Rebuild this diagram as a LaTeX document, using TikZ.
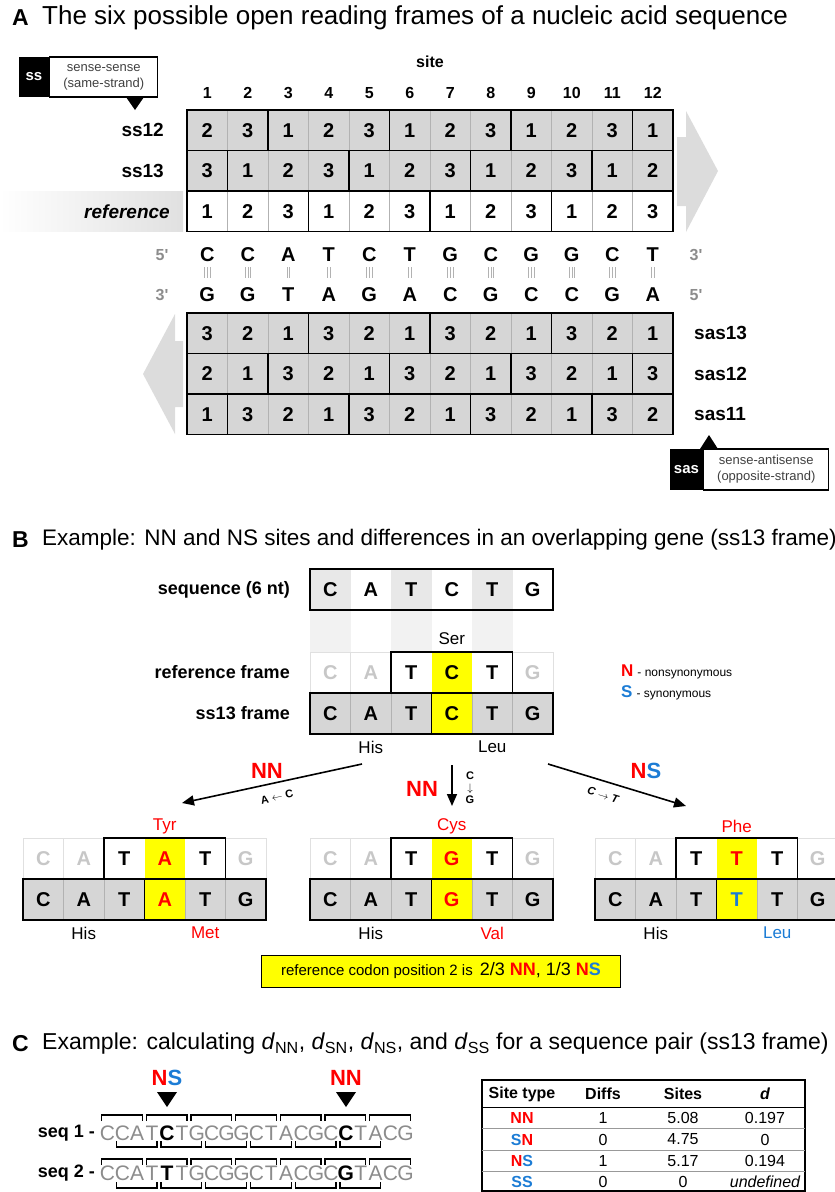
\documentclass[tikz,border=0pt]{standalone}
\usepackage{fontspec}
\setmainfont{Liberation Sans}
\usetikzlibrary{arrows.meta,positioning}

\definecolor{nred}{HTML}{FF0000}
\definecolor{sblue}{HTML}{1C7CD5}
\definecolor{hlyellow}{HTML}{FFFF00}
\definecolor{cellgray}{HTML}{D6D6D6}
\definecolor{bandgray}{HTML}{DCDCDC}

\newcommand{\fsz}[1]{\fontsize{#1}{#1}\selectfont}

\tikzset{
  every node/.style={inner sep=0pt},
  panelletter/.style={font=\bfseries\fsz{23}, anchor=west},
  paneltitle/.style={font=\fsz{22.5}, anchor=west},
  sitehead/.style={font=\bfseries\fsz{16}},
  sitenum/.style={font=\bfseries\fsz{16}},
  cellnum/.style={font=\bfseries\fsz{20}},
  rowlab/.style={font=\bfseries\fsz{19}},
  nucl/.style={font=\bfseries\fsz{20}},
  endlab/.style={font=\bfseries\fsz{16}, text=black!45},
  faded/.style={text=black!22},
  fadebox/.style={draw=black!12, line width=0.6pt},
  thinsep/.style={draw=black!30, line width=0.6pt},
  codonline/.style={line width=1.8pt},
  bond/.style={draw=black!30, line width=0.5pt},
  tagdark/.style={fill=black, text=white, font=\bfseries\fsz{15}},
  tagtext/.style={font=\fsz{13}, text=black!75, align=center},
  aalab/.style={font=\fsz{17}},
  siglab/.style={font=\bfseries\fsz{22}},
  mutlab/.style={font=\bfseries\fsz{11}},
  mutarrow/.style={line width=1.6pt, -{Triangle[length=12pt,width=10pt]}},
  seqlet/.style={font=\fsz{21}, text=black!45},
  seqhit/.style={font=\bfseries\fsz{21}},
  codonbrace/.style={line width=1.3pt},
  tabhead/.style={font=\bfseries\fsz{16}},
  tabcell/.style={font=\fsz{16}},
}

% one reading-frame row of panel A
\newcommand{\orfrow}[5]{%
  \fill[#3] (187,#2) rectangle ++(486,40.5);
  \foreach \k in {1,...,11}
    \draw[thinsep] (187+\k*40.5,#2) -- ++(0,40.5);
  \foreach \d [count=\k] in {#4}
    \node[cellnum] (#1-\k) at (166.75+\k*40.5,#2+20.25) {\d};
  \foreach \b in {#5}
    \draw[codonline] (187+\b*40.5,#2) -- ++(0,40.5);
  \draw[codonline] (187,#2) rectangle ++(486,40.5);
}

% reference frame over ss13 frame, six sites
\newcommand{\framepair}[6]{%
  \foreach \k in {1,2,6}
    \draw[fadebox] (#2-40.5+\k*40.5,#3) rectangle ++(40.5,41);
  \fill[cellgray] (#2,#3+41) rectangle ++(243,41);
  \fill[hlyellow] (#2+121.5,#3) rectangle ++(40.5,82);
  \foreach \k in {1,2,4,5}
    \draw[thinsep] (#2+\k*40.5,#3+41) -- ++(0,41);
  \draw[codonline] (#2+81,#3) rectangle ++(121.5,41);
  \draw[codonline] (#2,#3+41) rectangle ++(243,41);
  \draw[codonline] (#2+121.5,#3+41) -- ++(0,41);
  \node[nucl,faded] (#1r1) at (#2+20.25,#3+20.5) {C};
  \node[nucl,faded] (#1r2) at (#2+60.75,#3+20.5) {A};
  \node[nucl] (#1r3) at (#2+101.25,#3+20.5) {T};
  \node[nucl,text=#5] (#1r4) at (#2+141.75,#3+20.5) {#4};
  \node[nucl] (#1r5) at (#2+182.25,#3+20.5) {T};
  \node[nucl,faded] (#1r6) at (#2+222.75,#3+20.5) {G};
  \foreach \k/\b in {1/C,2/A,3/T,5/T,6/G}
    \node[nucl] (#1f\k) at (#2-20.25+\k*40.5,#3+61.5) {\b};
  \node[nucl,text=#6] (#1f4) at (#2+141.75,#3+61.5) {#4};
}

\begin{document}
\begin{tikzpicture}[x=1pt,y=-1pt]
\useasboundingbox (0,0) rectangle (835,1192);
\clip (0,0) rectangle (835,1192);

% ---------- A ----------
\node[panelletter] (labA) at (12,18) {A};
\node[paneltitle,font=\fsz{26}] (titleA) at (42,18) {The six possible open reading frames of a nucleic acid sequence};

\node[sitehead] (sitehd) at (430,62) {site};
\foreach \k in {1,...,12}
  \node[sitenum] (site\k) at (166.75+\k*40.5,93) {\k};

\shade[left color=white,right color=black!12] (0,191) rectangle (183,231.5);
\fill[bandgray] (677,137) -- (686,137) -- (686,111) -- (718,171) -- (686,232) -- (686,206) -- (677,206) -- cycle;
\fill[bandgray] (183,341) -- (175,341) -- (175,314) -- (143,374) -- (175,434) -- (175,407) -- (183,407) -- cycle;

\orfrow{ss12}{110}{cellgray}{2,3,1,2,3,1,2,3,1,2,3,1}{2,5,8,11}
\orfrow{ss13}{150.5}{cellgray}{3,1,2,3,1,2,3,1,2,3,1,2}{1,4,7,10}
\orfrow{ref}{191}{white}{1,2,3,1,2,3,1,2,3,1,2,3}{3,6,9}
\orfrow{sas13}{313}{cellgray}{3,2,1,3,2,1,3,2,1,3,2,1}{3,6,9}
\orfrow{sas12}{353.5}{cellgray}{2,1,3,2,1,3,2,1,3,2,1,3}{2,5,8,11}
\orfrow{sas11}{394}{cellgray}{1,3,2,1,3,2,1,3,2,1,3,2}{1,4,7,10}

\node[rowlab,anchor=east] (lss12) at (164,130.25) {ss12};
\node[rowlab,anchor=east] (lss13) at (164,170.75) {ss13};
\node[rowlab,anchor=east] (lref) at (170,211.25) {\itshape reference};
\node[rowlab,anchor=west] (lsas13) at (694,333.25) {sas13};
\node[rowlab,anchor=west] (lsas12) at (694,373.75) {sas12};
\node[rowlab,anchor=west] (lsas11) at (694,414.25) {sas11};

% double strand
\node[endlab] (top5) at (162,255) {5\textquotesingle};
\node[endlab] (top3) at (696,255) {3\textquotesingle};
\node[endlab] (bot3) at (162,295) {3\textquotesingle};
\node[endlab] (bot5) at (696,295) {5\textquotesingle};
\foreach \b [count=\k] in {C,C,A,T,C,T,G,C,G,G,C,T}
  \node[nucl] (up\k) at (166.75+\k*40.5,255) {\b};
\foreach \b [count=\k] in {G,G,T,A,G,A,C,G,C,C,G,A}
  \node[nucl] (dn\k) at (166.75+\k*40.5,295) {\b};
\foreach \n [count=\k] in {3,3,2,2,3,2,3,3,3,3,3,2} {
  \ifnum\n=3
    \foreach \o in {-2.8,0,2.8} \draw[bond] (166.75+\k*40.5+\o,267) -- ++(0,11);
  \else
    \foreach \o in {-1.4,1.4} \draw[bond] (166.75+\k*40.5+\o,267) -- ++(0,11);
  \fi
}

% frame tags
\node[tagdark,minimum width=30pt,minimum height=40pt] (sstag) at (34,77) {ss};
\node[tagtext,draw,line width=1.2pt,minimum width=108pt,minimum height=40pt,anchor=west] (ssdesc) at (sstag.east) {sense-sense\\[3pt](same-strand)};
\fill (126,97) -- (144,97) -- (135,110) -- cycle;
\node[tagdark,minimum width=33pt,minimum height=41pt] (sastag) at (686.5,469.5) {sas};
\node[tagtext,draw,line width=1.2pt,minimum width=125pt,minimum height=41pt,anchor=west] (sasdesc) at (sastag.east) {sense-antisense\\[3pt](opposite-strand)};
\fill (700,449) -- (718,449) -- (709,435) -- cycle;

% ---------- B ----------
\node[panelletter] (labB) at (12,540) {B};
\node[paneltitle] (titleB) at (42,540) {Example: NN and NS sites and differences in an overlapping gene (ss13 frame)};

\foreach \k in {1,3,5} {
  \fill[black!9] (269.5+\k*40.5,569) rectangle ++(40.5,41);
  \fill[black!5] (269.5+\k*40.5,610) rectangle ++(40.5,42);
}
\draw[codonline] (310,569) rectangle ++(243,41);
\foreach \b [count=\k] in {C,A,T,C,T,G}
  \node[nucl] (seq\k) at (289.75+\k*40.5,589.5) {\b};

\framepair{main}{310}{652}{C}{black}{black}
\node[rowlab,anchor=east,font=\bfseries\fsz{18}] (lseq) at (290,589.5) {sequence (6 nt)};
\node[rowlab,anchor=east,font=\bfseries\fsz{18}] (lrefB) at (290,672.5) {reference frame};
\node[rowlab,anchor=east,font=\bfseries\fsz{18}] (lss13B) at (290,713.5) {ss13 frame};
\node[aalab] (ser) at (451.75,639) {Ser};
\node[aalab] (his) at (370.75,747) {His};
\node[aalab] (leu) at (492.25,747) {Leu};

\node[anchor=west] (legN) at (621,672) {{\bfseries\fsz{17}\color{nred}N}\hspace{4pt}{\fsz{12}- nonsynonymous}};
\node[anchor=west] (legS) at (621,693) {{\bfseries\fsz{17}\color{sblue}S}\hspace{4pt}{\fsz{12}- synonymous}};

% mutations
\coordinate (arrLa) at (362,764);
\coordinate (arrLb) at (182,803);
\coordinate (arrMa) at (452,765);
\coordinate (arrMb) at (452,806);
\coordinate (arrRa) at (548,764);
\coordinate (arrRb) at (686,806);
\draw[mutarrow] (arrLa) -- (arrLb);
\draw[mutarrow] (arrMa) -- (arrMb);
\draw[mutarrow] (arrRa) -- (arrRb);
\node[siglab,text=nred] (sigL) at (267,771) {NN};
\node[mutlab,rotate=12] (mutL) at (277,797) {A $\leftarrow$ C};
\node[siglab,text=nred] (sigM) at (422,789) {NN};
\node[mutlab,align=center] (mutM) at (470,788) {C\\[1pt]$\downarrow$\\[1pt]G};
\node[siglab] (sigR) at (646,771) {\color{nred}N\color{sblue}S};
\node[mutlab,rotate=-17] (mutR) at (603,795) {\itshape C $\rightarrow$ T};

\framepair{left}{23}{838}{A}{nred}{nred}
\framepair{mid}{310}{838}{G}{nred}{nred}
\framepair{right}{595}{838}{T}{nred}{sblue}
\node[aalab,text=nred] (tyr) at (164.75,826) {Tyr};
\node[aalab,text=nred] (cys) at (451.75,826) {Cys};
\node[aalab,text=nred] (phe) at (736.75,826) {Phe};
\node[aalab] (hisL) at (83.75,933) {His};
\node[aalab,text=nred] (met) at (205.25,933) {Met};
\node[aalab] (hisM) at (370.75,933) {His};
\node[aalab,text=nred] (val) at (492.25,933) {Val};
\node[aalab] (hisR) at (655.75,933) {His};
\node[aalab,text=sblue] (leuR) at (777.25,933) {Leu};

\node[draw,fill=hlyellow,line width=1pt,minimum width=359pt,minimum height=32pt] (note) at (441,971)
  {{\fsz{15}reference codon position 2 is}\hspace{7pt}{\fsz{18}2/3 {\bfseries\color{nred}NN}, 1/3 {\bfseries\color{nred}N\color{sblue}S}}};

% ---------- C ----------
\node[panelletter] (labC) at (12,1044) {C};
\node[paneltitle,font=\fsz{23}] (titleC) at (42,1044) {Example: calculating \textit{d}\textsubscript{NN}, \textit{d}\textsubscript{SN}, \textit{d}\textsubscript{NS}, and \textit{d}\textsubscript{SS} for a sequence pair (ss13 frame)};

\node[siglab] (sigNS) at (167,1078) {\color{nred}N\color{sblue}S};
\node[siglab,text=nred] (sigNN) at (346,1078) {NN};
\fill (157,1092) -- (177,1092) -- (167,1107) -- cycle;
\fill (336,1092) -- (356,1092) -- (346,1107) -- cycle;

\node[rowlab,anchor=east,font=\bfseries\fsz{18}] (lone) at (95,1133) {seq 1 -};
\node[rowlab,anchor=east,font=\bfseries\fsz{18}] (ltwo) at (95,1173) {seq 2 -};
\foreach \b [count=\k] in {C,C,A,T,C,T,G,C,G,G,C,T,A,C,G,C,C,T,A,C,G} {
  \ifnum\k=5 \else\ifnum\k=17 \else
    \node[seqlet] (one\k) at (92.55+\k*14.9,1133) {\b};
  \fi\fi
}
\node[seqhit] (one5) at (167.05,1133) {C};
\node[seqhit] (one17) at (345.85,1133) {C};
\foreach \b [count=\k] in {C,C,A,T,T,T,G,C,G,G,C,T,A,C,G,C,G,T,A,C,G} {
  \ifnum\k=5 \else\ifnum\k=17 \else
    \node[seqlet] (two\k) at (92.55+\k*14.9,1173) {\b};
  \fi\fi
}
\node[seqhit] (two5) at (167.05,1173) {T};
\node[seqhit] (two17) at (345.85,1173) {G};

\foreach \j in {0,...,6} {
  \draw[codonbrace] (101.5+44.7*\j,1121) |- (142.2+44.7*\j,1115) -- ++(0,6);
  \draw[codonbrace] (101.5+44.7*\j,1165) |- (142.2+44.7*\j,1159) -- ++(0,6);
}
\foreach \j in {0,...,5} {
  \draw[codonbrace] (116.4+44.7*\j,1141) |- (157.1+44.7*\j,1147) -- ++(0,-6);
  \draw[codonbrace] (116.4+44.7*\j,1182) |- (157.1+44.7*\j,1188) -- ++(0,-6);
}

% table
\draw[line width=1.8pt] (482,1080) rectangle (805,1191);
\draw[line width=1pt] (482,1107) -- (805,1107);
\foreach \y in {1128.5,1150,1171.5}
  \draw[draw=black!40,line width=0.8pt] (482,\y) -- (805,\y);
\node[tabhead] (hType) at (522,1094) {Site type};
\node[tabhead] (hDiff) at (603,1094) {Diffs};
\node[tabhead] (hSite) at (683,1094) {Sites};
\node[tabhead] (hD) at (765,1094) {\itshape d};
\node[tabhead] (tNN) at (522,1118) {\color{nred}NN};
\node[tabhead] (tSN) at (522,1139.5) {\color{sblue}S\color{nred}N};
\node[tabhead] (tNS) at (522,1161) {\color{nred}N\color{sblue}S};
\node[tabhead] (tSS) at (522,1182) {\color{sblue}SS};
\foreach \y/\a/\b/\c [count=\r] in {1118/1/5.08/0.197, 1139.5/0/4.75/0, 1161/1/5.17/0.194, 1182/0/0/\itshape undefined} {
  \node[tabcell] (dif\r) at (603,\y) {\a};
  \node[tabcell] (sit\r) at (683,\y) {\b};
  \node[tabcell] (dv\r) at (765,\y) {\c};
}
\end{tikzpicture}
\end{document}
